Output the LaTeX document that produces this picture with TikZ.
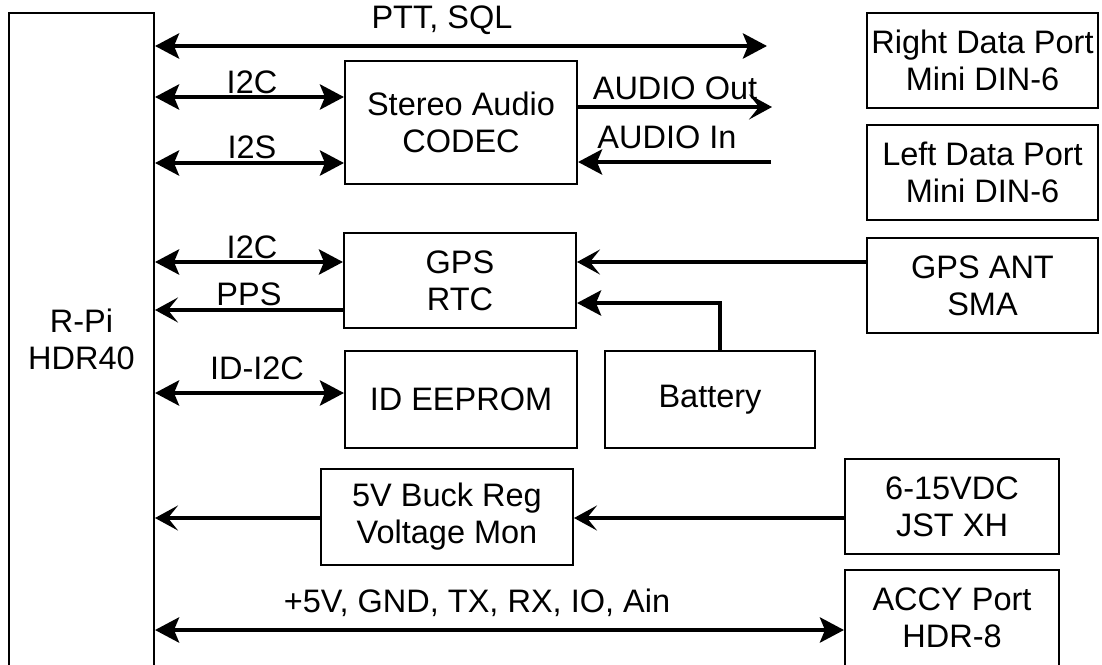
\documentclass[tikz,border=0pt]{standalone}
\usepackage{fontspec}
\setmainfont{Liberation Sans}
\usetikzlibrary{arrows.meta}
\tikzset{
  box/.style={draw, line width=2pt, inner sep=0pt, align=center, font=\fontsize{32.5}{37}\selectfont},
  lbl/.style={inner sep=0pt, font=\fontsize{32.5}{37}\selectfont},
  wire/.style={line width=4.5pt},
  tipA/.tip={Stealth[length=24pt,width=25pt,inset=5pt]},
  tipB/.tip={Stealth[length=23pt,width=25pt,inset=10pt]},
  bi/.style={wire, tipA-tipA},
  uni/.style={wire, -tipA},
  unib/.style={wire, -tipB},
}
\begin{document}
\begin{tikzpicture}[x=1pt,y=-1pt]
\useasboundingbox (0,0) rectangle (1102,664);
% nodes
\node[box, minimum width=145pt, minimum height=653pt] (rpi) at (81.5,339.5) {R-Pi\\HDR40};
\node[box, minimum width=232pt, minimum height=123pt] (codec) at (461,122.5) {Stereo Audio\\CODEC};
\node[box, minimum width=231pt, minimum height=95pt] (rdp) at (982.5,60.5) {Right Data Port\\Mini DIN-6};
\node[box, minimum width=231pt, minimum height=95pt] (ldp) at (982.5,172.5) {Left Data Port\\Mini DIN-6};
\node[box, minimum width=231pt, minimum height=95pt] (gpsant) at (982.5,285.5) {GPS ANT\\SMA};
\node[box, minimum width=232pt, minimum height=95pt] (gps) at (460,280.5) {GPS\\RTC};
\node[box, minimum width=232pt, minimum height=97pt] (eeprom) at (461,399.5) {ID EEPROM};
\node[box, minimum width=210pt, minimum height=97pt] (battery) at (710,399.5) {Battery};
\node[box, minimum width=252pt, minimum height=96pt] (buck) at (447,517) {5V Buck Reg\\Voltage Mon};
\node[box, minimum width=214pt, minimum height=95pt] (vdc) at (952,506.5) {6-15VDC\\JST XH};
\node[box, minimum width=214pt, minimum height=96pt] (accy) at (952,618) {ACCY Port\\HDR-8};
% free ends
\coordinate (pttend) at (767,46);
\coordinate (aoutend) at (772,107);
\coordinate (ainend) at (771,162);
% connectors
\draw[bi] (rpi.east |- pttend) -- (pttend);
\draw[bi] (rpi.east |- 0,97) -- (codec.west |- 0,97);
\draw[bi] (rpi.east |- 0,163) -- (codec.west |- 0,163);
\draw[unib] (codec.east |- aoutend) -- (aoutend);
\draw[uni] (ainend) -- (codec.east |- ainend);
\draw[bi] (rpi.east |- 0,262) -- (gps.west |- 0,262);
\draw[unib] (gps.west |- 0,310) -- (rpi.east |- 0,310);
\draw[unib] (gpsant.west |- 0,262) -- (gps.east |- 0,262);
\draw[uni] (battery.north -| 720,0) |- (gps.east |- 0,303);
\draw[bi] (rpi.east |- 0,393) -- (eeprom.west |- 0,393);
\draw[unib] (buck.west |- 0,518) -- (rpi.east |- 0,518);
\draw[unib] (vdc.west |- 0,518) -- (buck.east |- 0,518);
\draw[bi] (rpi.east |- 0,630) -- (accy.west |- 0,630);
% labels
\node[lbl] (lptt) at (442,20) {PTT, SQL};
\node[lbl] (li2c) at (252,82) {I2C};
\node[lbl] (li2s) at (252,147) {I2S};
\node[lbl] (laout) at (675,88) {AUDIO Out};
\node[lbl] (lain) at (667,137) {AUDIO In};
\node[lbl] (li2cb) at (252,247) {I2C};
\node[lbl] (lpps) at (249,294) {PPS};
\node[lbl] (lidi2c) at (257,368) {ID-I2C};
\node[lbl] (lpwr) at (477,603) {+5V, GND, TX, RX, IO, Ain};
\end{tikzpicture}
\end{document}
